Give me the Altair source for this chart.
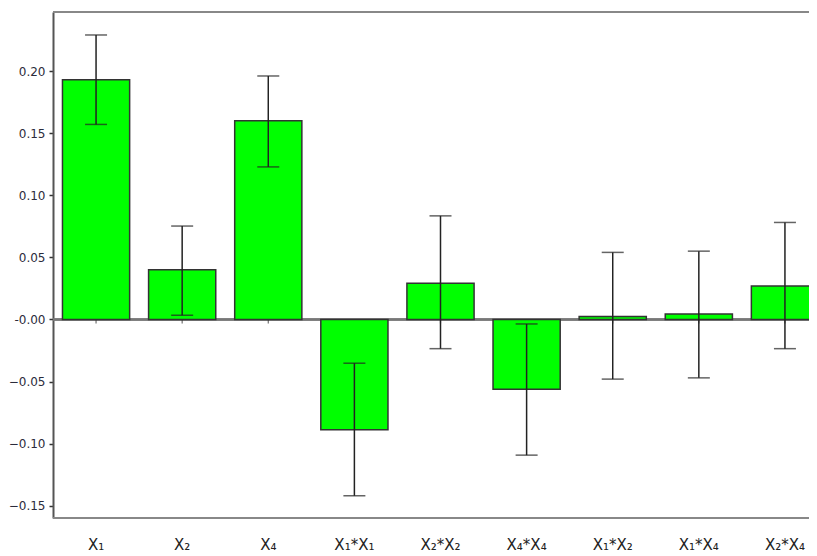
import altair as alt
import pandas as pd

categories = ["X₁", "X₂", "X₄", "X₁*X₁", "X₂*X₂", "X₄*X₄", "X₁*X₂", "X₁*X₄", "X₂*X₄"]
coef = [0.193, 0.040, 0.160, -0.0888, 0.0291, -0.0561, 0.0023, 0.0044, 0.0269]
err_lo = [0.157, 0.0034, 0.1228, -0.1419, -0.0235, -0.1092, -0.048, -0.047, -0.0235]
err_hi = [0.229, 0.0752, 0.196, -0.0352, 0.0834, -0.0036, 0.054, 0.055, 0.0781]
y_ticks = [-0.15, -0.125, -0.10, -0.075, -0.05, -0.025, 0.0, 0.025, 0.05, 0.075,
           0.10, 0.125, 0.15, 0.175, 0.20, 0.225]

df = pd.DataFrame({"term": categories, "coef": coef, "lo": err_lo, "hi": err_hi})

PLOT_W = 775
xscale = alt.Scale(domain=categories, range=[0, PLOT_W], paddingInner=0.22, paddingOuter=0.11)
yscale = alt.Scale(domain=[-0.1598, 0.2475], nice=False, zero=False)

xaxis = alt.Axis(title=None, ticks=False, domain=False, labelAngle=0, labelPadding=19,
                 labelFont="DejaVu Sans", labelFontSize=15, labelColor="#222",
                 labelOverlap=False, labelBound=False, labelFlush=False)
yaxis = alt.Axis(title=None, values=y_ticks, grid=False, tickSize=4, tickColor="#333",
                 tickWidth=1.5, domainColor="#555", domainWidth=2, labelPadding=4,
                 labelFont="DejaVu Sans", labelFontSize=12, labelColor="#2b2b3b",
                 labelExpr="abs(round(datum.value*40)) % 2 == 0 ? (abs(datum.value) < 1e-9 ? '-0.00' : format(datum.value, '.2f')) : ''")

base = alt.Chart(df)

x_enc = alt.X("term:N", scale=xscale, axis=xaxis, sort=categories)

zero_line = base.mark_rule(color="#777", strokeWidth=1.5).encode(
    x=alt.value(0), x2=alt.value(PLOT_W), y=alt.datum(0, scale=yscale)
)
top_line = base.mark_rule(color="#888", strokeWidth=2).encode(
    x=alt.value(0), x2=alt.value(PLOT_W), y=alt.value(0)
)
bottom_line = base.mark_rule(color="#888", strokeWidth=2).encode(
    x=alt.value(0), x2=alt.value(PLOT_W), y=alt.value(506)
)
zero_ticks = base.mark_tick(orient="vertical", size=4, thickness=1.2, color="#333", yOffset=2).encode(
    x=x_enc, y=alt.datum(0, scale=yscale)
)
bars = base.mark_bar(color="#00FF00", stroke="#333", strokeWidth=1.5).encode(
    x=x_enc,
    y=alt.Y("coef:Q", scale=yscale, axis=yaxis),
)
err = base.mark_rule(color="#222", strokeWidth=1.5).encode(
    x=x_enc, y=alt.Y("lo:Q", scale=yscale), y2="hi:Q"
)
cap_lo = base.mark_tick(orient="horizontal", size=22, thickness=1.5, color="#222").encode(
    x=x_enc, y=alt.Y("lo:Q", scale=yscale)
)
cap_hi = base.mark_tick(orient="horizontal", size=22, thickness=1.5, color="#222").encode(
    x=x_enc, y=alt.Y("hi:Q", scale=yscale)
)

chart = alt.layer(zero_line, top_line, bottom_line, zero_ticks, bars, err, cap_lo, cap_hi).properties(
    width=756, height=506,
    autosize=alt.AutoSizeParams(type="none"),
    padding={"left": 45, "top": 4, "right": 0, "bottom": 38},
).configure_view(stroke=None).configure(background="white")

chart.save("out.html", embed_options={"renderer": "svg", "actions": False})
